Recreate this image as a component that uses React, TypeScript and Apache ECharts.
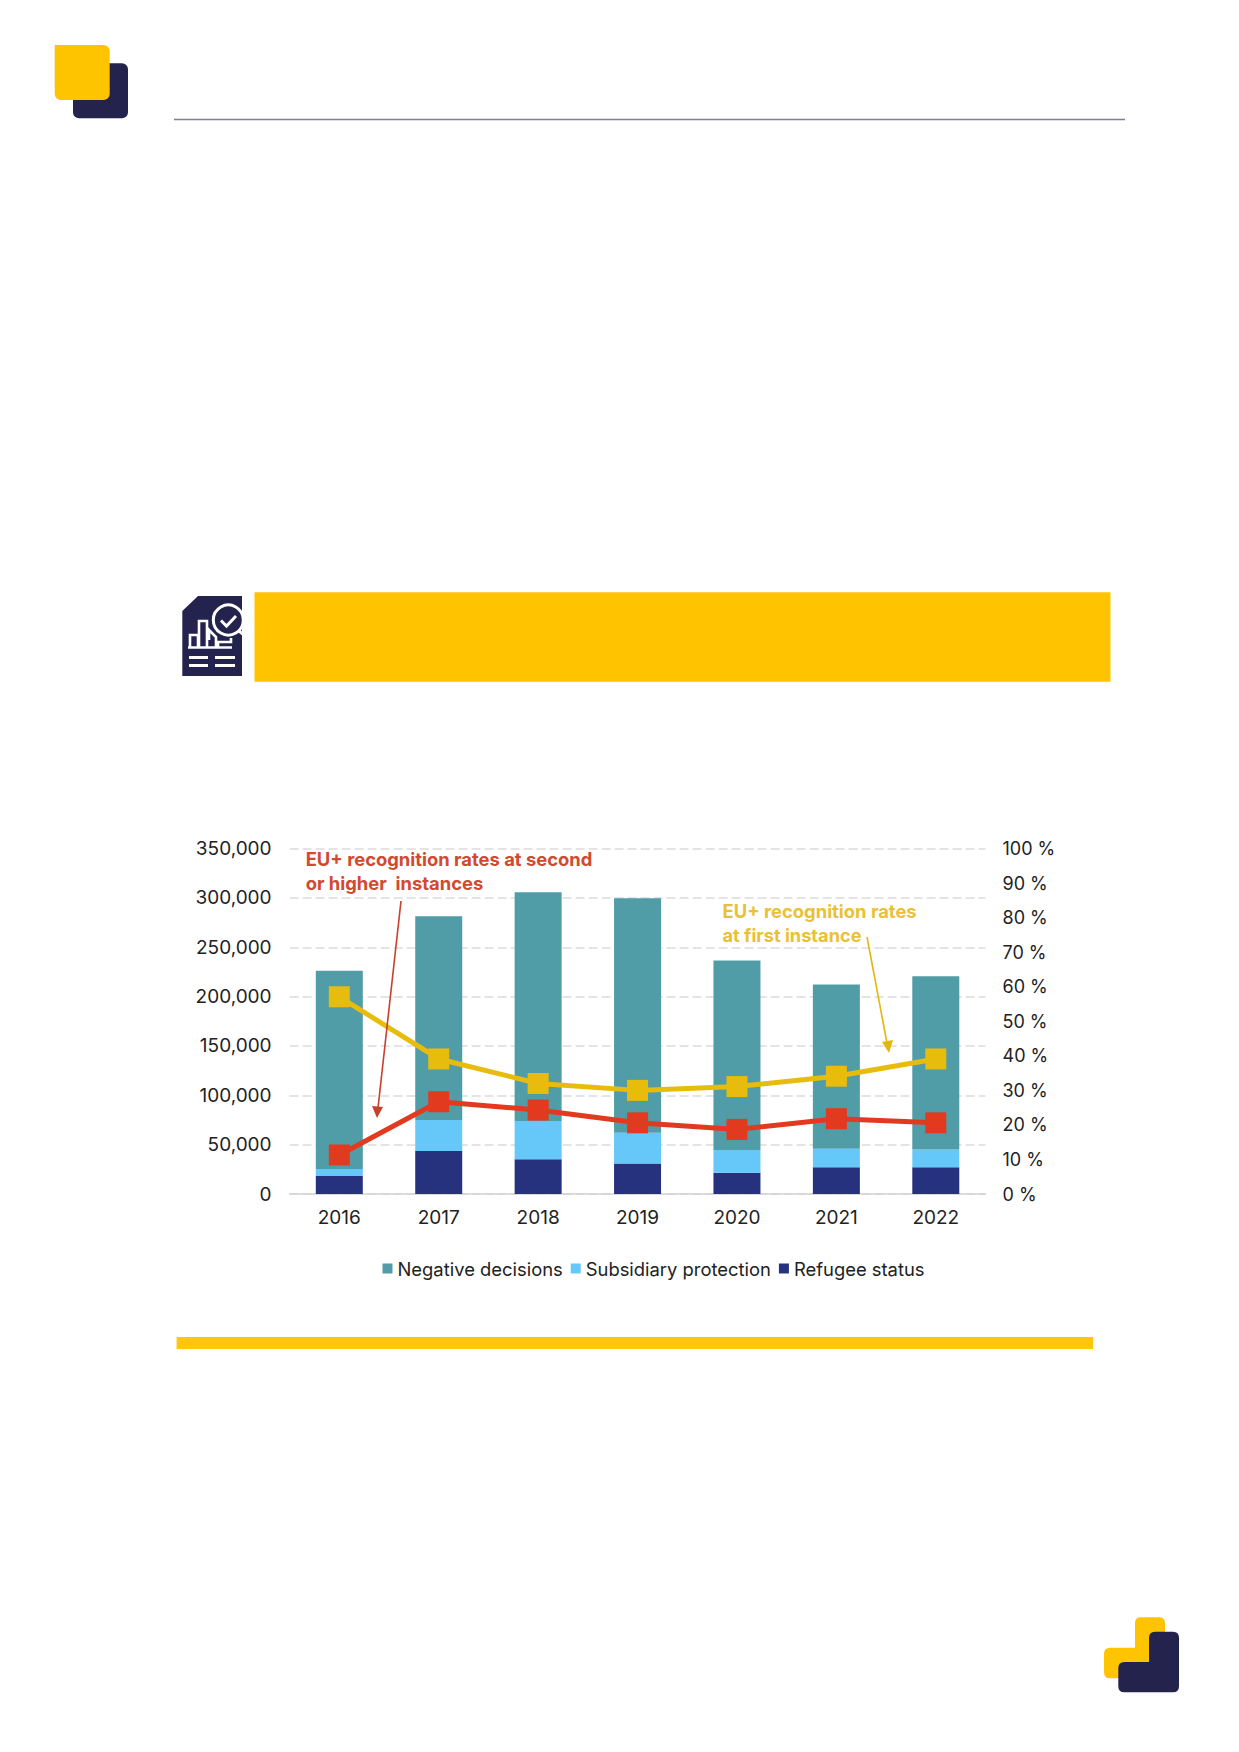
import { useEffect, useRef } from "react";
import * as echarts from "echarts";

const years = ["2016", "2017", "2018", "2019", "2020", "2021", "2022"];
const refugeeStatus = [18200, 43500, 35100, 31000, 21600, 27000, 27000];
const subsidiaryProtection = [7100, 31400, 38800, 31100, 22900, 18900, 18200];
const negativeDecisions = [200800, 206600, 231900, 237600, 192100, 166400, 175500];
const firstInstanceRate = [57.1, 39.1, 32.0, 30.0, 31.1, 34.1, 39.1];
const higherInstanceRate = [11.3, 26.7, 24.3, 20.6, 18.7, 21.8, 20.6];
const legendNames = ["Negative decisions", "Subsidiary protection", "Refugee status"];

const FONT = "Inter, 'Noto Sans', sans-serif";
const YELLOW = "#FFC400";
const NAVY = "#23234D";

// corner logo, bottom right of the page
echarts.graphic.registerShape(
  "logoBack",
  echarts.graphic.extendPath(
    "M1110,1647.7 H1135 V1623 Q1135,1617.3 1141,1617.3 H1159 Q1165,1617.3 1165,1623 V1678.3 H1110 Q1104,1678.3 1104,1672 V1654 Q1104,1647.7 1110,1647.7 Z",
    {},
  ),
);
echarts.graphic.registerShape(
  "logoFront",
  echarts.graphic.extendPath(
    "M1155,1631.7 H1173 Q1179,1631.7 1179,1637.7 V1686.3 Q1179,1692.3 1173,1692.3 H1124.3 Q1118.3,1692.3 1118.3,1686.3 V1668 Q1118.3,1662 1124.3,1662 H1149 V1637.7 Q1149,1631.7 1155,1631.7 Z",
    {},
  ),
);

const white = (width: number) => ({ stroke: "#fff", lineWidth: width, fill: "none" });

function pageGraphics() {
  return [
    // header
    { type: "rect", shape: { x: 73, y: 63.3, width: 55, height: 55, r: 6 }, style: { fill: NAVY } },
    { type: "rect", shape: { x: 54.7, y: 45, width: 55, height: 55, r: [0, 6, 6, 6] }, style: { fill: YELLOW } },
    { type: "line", shape: { x1: 174, y1: 119.5, x2: 1125, y2: 119.5 }, style: { stroke: "#7f7f8e", lineWidth: 1.5 } },

    // figure title band + icon
    { type: "rect", shape: { x: 254.5, y: 592.3, width: 856, height: 89.5 }, style: { fill: "#FFC300" } },
    {
      type: "polygon",
      shape: { points: [[198, 596], [242, 596], [242, 676], [182.3, 676], [182.3, 611]] },
      style: { fill: NAVY },
    },
    { type: "circle", shape: { cx: 228.3, cy: 620, r: 15 }, style: { fill: NAVY, stroke: "#fff", lineWidth: 3 } },
    { type: "line", shape: { x1: 239, y1: 631, x2: 244, y2: 635 }, style: { stroke: "#fff", lineWidth: 3 } },
    { type: "polyline", shape: { points: [[221, 620.5], [226.5, 626], [236, 616]] }, style: white(3) },
    { type: "polyline", shape: { points: [[190, 647], [190, 635], [198, 635], [198, 647]] }, style: white(2.6) },
    { type: "polyline", shape: { points: [[199, 647], [199, 621], [207, 621], [207, 647]] }, style: white(2.6) },
    { type: "polyline", shape: { points: [[209, 640], [209, 630], [216, 637], [216, 647]] }, style: white(2.6) },
    { type: "polyline", shape: { points: [[218, 647], [218, 642], [231, 642], [231, 638]] }, style: white(2.6) },
    { type: "line", shape: { x1: 188, y1: 647.5, x2: 232, y2: 647.5 }, style: white(2.6) },
    { type: "line", shape: { x1: 189, y1: 657.5, x2: 208, y2: 657.5 }, style: white(3) },
    { type: "line", shape: { x1: 215, y1: 657.5, x2: 235, y2: 657.5 }, style: white(3) },
    { type: "line", shape: { x1: 189, y1: 665.5, x2: 208, y2: 665.5 }, style: white(3) },
    { type: "line", shape: { x1: 215, y1: 665.5, x2: 235, y2: 665.5 }, style: white(3) },

    // rule under the figure
    { type: "rect", shape: { x: 176.6, y: 1337, width: 916.6, height: 12 }, style: { fill: "#FFC60A" } },

    // bottom logo
    { type: "logoBack", style: { fill: YELLOW } },
    { type: "logoFront", style: { fill: NAVY } },

    // annotations
    {
      type: "text",
      z: 20,
      style: {
        x: 305.7, y: 859, text: "EU+ recognition rates at second", fill: "#D14A30",
        font: `700 18.4px ${FONT}`, verticalAlign: "middle",
      },
    },
    {
      type: "text",
      z: 20,
      style: {
        x: 305.7, y: 882.5, text: "or higher  instances", fill: "#D14A30",
        font: `700 18.4px ${FONT}`, verticalAlign: "middle",
      },
    },
    {
      type: "text",
      z: 20,
      style: {
        x: 722.5, y: 910.5, text: "EU+ recognition rates", fill: "#E9C136",
        font: `700 18.4px ${FONT}`, verticalAlign: "middle",
      },
    },
    {
      type: "text",
      z: 20,
      style: {
        x: 722.5, y: 934.5, text: "at first instance", fill: "#E9C136",
        font: `700 18.2px ${FONT}`, verticalAlign: "middle",
      },
    },
    { type: "line", z: 20, shape: { x1: 401, y1: 901, x2: 378, y2: 1108 }, style: { stroke: "#C9402A", lineWidth: 1.6 } },
    { type: "polygon", z: 20, shape: { points: [[372, 1106], [383, 1107], [377, 1118]] }, style: { fill: "#C9402A" } },
    { type: "line", z: 20, shape: { x1: 867, y1: 937, x2: 887, y2: 1043 }, style: { stroke: "#E2B80F", lineWidth: 1.6 } },
    { type: "polygon", z: 20, shape: { points: [[882, 1042], [893, 1040], [889, 1053]] }, style: { fill: "#E2B80F" } },
  ];
}

export default function App() {
  const chartRef = useRef<HTMLDivElement>(null);

  useEffect(() => {
    if (!chartRef.current) return;
    const chart = echarts.init(chartRef.current, undefined, { renderer: "svg" });

    const axisText = { color: "#222", fontFamily: FONT, fontSize: 19 };
    const barSeries = (name: string, data: number[], color: string) => ({
      name,
      type: "bar",
      stack: "decisions",
      barWidth: 47,
      data,
      itemStyle: { color },
    });
    const rateSeries = (name: string, data: number[], color: string) => ({
      name,
      type: "line",
      yAxisIndex: 1,
      data,
      symbol: "rect",
      symbolSize: 21,
      lineStyle: { width: 5, color },
      itemStyle: { color },
      z: 5,
    });

    chart.setOption({
      animation: false,
      backgroundColor: "#fff",
      grid: { left: 289.6, right: 253.5, top: 848.6, height: 345.4 },
      legend: {
        data: legendNames,
        left: 377.5,
        top: 1254.5,
        icon: "rect",
        itemWidth: 10,
        itemHeight: 10,
        itemGap: 8,
        textStyle: { color: "#222", fontFamily: FONT, fontSize: 18.4 },
      },
      xAxis: {
        type: "category",
        data: years,
        axisTick: { show: false },
        axisLine: { lineStyle: { color: "#d2d2d6", width: 1.5 } },
        axisLabel: { ...axisText, margin: 14 },
      },
      yAxis: [
        {
          type: "value",
          min: 0,
          max: 350000,
          interval: 50000,
          axisLine: { show: false },
          axisTick: { show: false },
          axisLabel: { ...axisText, margin: 18, padding: [0, 0, 2, 0] },
          splitLine: { lineStyle: { color: "#dcdcdc", width: 1.5, type: [9, 4] } },
        },
        {
          type: "value",
          min: 0,
          max: 100,
          interval: 10,
          position: "right",
          axisLine: { show: false },
          axisTick: { show: false },
          axisLabel: { ...axisText, fontSize: 18, margin: 17, padding: [0, 0, 2, 0], formatter: "{value} %" },
          splitLine: { show: false },
        },
      ],
      series: [
        barSeries("Refugee status", refugeeStatus, "#27327F"),
        barSeries("Subsidiary protection", subsidiaryProtection, "#66C8F8"),
        barSeries("Negative decisions", negativeDecisions, "#509DA8"),
        rateSeries("EU+ recognition rates at first instance", firstInstanceRate, "#E8BC0C"),
        rateSeries("EU+ recognition rates at second or higher instances", higherInstanceRate, "#E23A1E"),
      ],
      graphic: pageGraphics(),
    });

    return () => chart.dispose();
  }, []);

  return <div ref={chartRef} style={{ position: "absolute", left: 0, top: 0, width: 1239, height: 1752 }} />;
}
